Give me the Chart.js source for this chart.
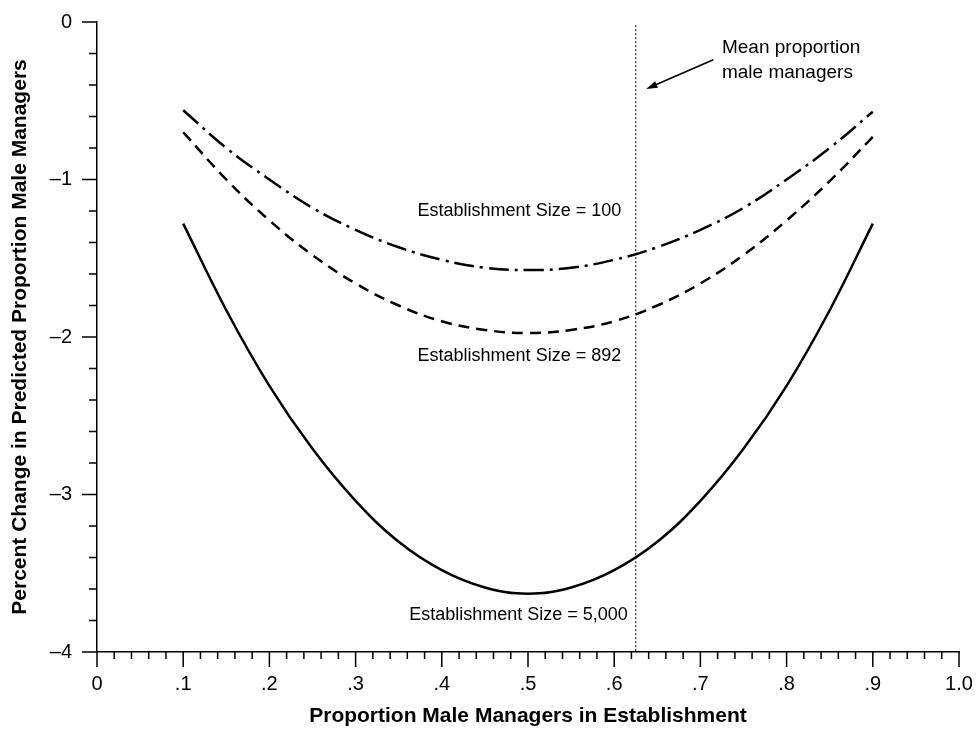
<!DOCTYPE html>
<html>
<head>
<meta charset="utf-8">
<script src="https://cdn.jsdelivr.net/npm/chart.js@4.4.1/dist/chart.umd.min.js"></script>
<style>
  html, body { margin: 0; padding: 0; background: #fff; }
  #wrap { width: 977px; height: 731px; }
</style>
</head>
<body>
<div id="wrap"><canvas id="chart" width="977" height="731"></canvas></div>
<script>
// proportion male managers (x) and predicted % change (y) for three establishment sizes
const propMale = [0.1, 0.15, 0.2, 0.25, 0.3, 0.35, 0.4, 0.45, 0.5, 0.55, 0.6, 0.65, 0.7, 0.75, 0.8, 0.85, 0.9];
const size100  = [-0.56, -0.80, -1.00, -1.18, -1.32, -1.43, -1.51, -1.56, -1.575, -1.56, -1.51, -1.43, -1.32, -1.18, -1.00, -0.80, -0.57];
const size892  = [-0.70, -1.00, -1.26, -1.48, -1.66, -1.80, -1.90, -1.955, -1.975, -1.955, -1.90, -1.80, -1.66, -1.48, -1.26, -1.01, -0.73];
const size5000 = [-1.28, -1.83, -2.31, -2.71, -3.04, -3.30, -3.48, -3.59, -3.63, -3.59, -3.48, -3.30, -3.04, -2.71, -2.31, -1.83, -1.28];

const meanProp = 0.625;
const meanLine = [-0.02, -4];

const curveLabels = ["Establishment Size = 100", "Establishment Size = 892", "Establishment Size = 5,000"];
const curveLabelPos = [[0.49, -1.20], [0.49, -2.12], [0.489, -3.765]];

const noteLines = ["Mean proportion", "male managers"];
const notePos = [0.725, -0.165];
const arrowFrom = [0.715, -0.24];
const arrowTo = [0.637, -0.425];

const xTickLabel = v => v === 0 ? "0" : (v >= 1 ? "1.0" : "." + Math.round(v * 10));
const yTickLabel = v => v === 0 ? "0" : "\u2013" + Math.abs(v);

const pts = ys => propMale.map((x, i) => ({ x, y: ys[i] }));

const FONT = "'Liberation Sans', Arial, Helvetica, sans-serif";

// minor/major ticks, arrow and text notes
const extras = {
  id: "extras",
  afterDraw(chart) {
    const { ctx, scales: { x, y } } = chart;
    ctx.save();
    ctx.strokeStyle = "#000";
    ctx.lineWidth = 1.5;
    ctx.beginPath();
    for (let i = 0; i <= 50; i++) {
      const px = x.getPixelForValue(i / 50);
      const len = i % 5 === 0 ? 15 : 7;
      ctx.moveTo(px, y.bottom);
      ctx.lineTo(px, y.bottom + len);
    }
    for (let i = 0; i <= 20; i++) {
      const py = y.getPixelForValue(-i / 5);
      const len = i % 5 === 0 ? 15 : 8;
      ctx.moveTo(x.left, py);
      ctx.lineTo(x.left - len, py);
    }
    ctx.stroke();

    // arrow
    const ax = x.getPixelForValue(arrowFrom[0]), ay = y.getPixelForValue(arrowFrom[1]);
    const bx = x.getPixelForValue(arrowTo[0]), by = y.getPixelForValue(arrowTo[1]);
    const ang = Math.atan2(by - ay, bx - ax);
    ctx.lineWidth = 1.5;
    ctx.beginPath();
    ctx.moveTo(ax, ay);
    ctx.lineTo(bx - 8 * Math.cos(ang), by - 8 * Math.sin(ang));
    ctx.stroke();
    ctx.beginPath();
    ctx.moveTo(bx, by);
    ctx.lineTo(bx - 12 * Math.cos(ang - 0.3), by - 12 * Math.sin(ang - 0.3));
    ctx.lineTo(bx - 12 * Math.cos(ang + 0.3), by - 12 * Math.sin(ang + 0.3));
    ctx.closePath();
    ctx.fillStyle = "#000";
    ctx.fill();

    ctx.fillStyle = "#000";
    ctx.font = "19px " + FONT;
    ctx.textBaseline = "middle";
    ctx.textAlign = "left";
    const nx = x.getPixelForValue(notePos[0]), ny = y.getPixelForValue(notePos[1]);
    noteLines.forEach((t, i) => ctx.fillText(t, nx, ny + i * 25));

    ctx.font = "18px " + FONT;
    ctx.textAlign = "center";
    curveLabels.forEach((t, i) => {
      ctx.fillText(t, x.getPixelForValue(curveLabelPos[i][0]), y.getPixelForValue(curveLabelPos[i][1]));
    });
    ctx.restore();
  }
};

new Chart(document.getElementById("chart"), {
  type: "line",
  data: {
    datasets: [
      { label: "100", data: pts(size100), borderColor: "#000", borderWidth: 2.5, borderDash: [20, 6, 3, 6], pointRadius: 0, tension: 0.4, fill: false },
      { label: "892", data: pts(size892), borderColor: "#000", borderWidth: 2.5, borderDash: [11, 7], pointRadius: 0, tension: 0.4, fill: false },
      { label: "5000", data: pts(size5000), borderColor: "#000", borderWidth: 2.5, pointRadius: 0, tension: 0.4, fill: false },
      { label: "mean", data: meanLine.map(v => ({ x: meanProp, y: v })), borderColor: "#000", borderWidth: 1, borderDash: [2, 2], pointRadius: 0, fill: false }
    ]
  },
  options: {
    responsive: false,
    animation: false,
    layout: { padding: { left: 0, right: 18, top: 22, bottom: 0 } },
    plugins: { legend: { display: false }, tooltip: { enabled: false } },
    scales: {
      x: {
        type: "linear", min: 0, max: 1,
        afterFit: s => { s.height = 79; s.paddingLeft = 0; s.paddingRight = 0; },
        grid: { display: false },
        border: { display: true, color: "#000", width: 1.5 },
        ticks: { stepSize: 0.1, callback: xTickLabel, color: "#000", padding: 12, maxRotation: 0, font: { family: FONT, size: 20 } },
        title: { display: true, text: "Proportion Male Managers in Establishment", color: "#000", padding: { top: 0, bottom: 2 }, font: { family: FONT, size: 21, weight: "bold" } }
      },
      y: {
        type: "linear", min: -4, max: 0,
        afterFit: s => { s.width = 97; s.paddingTop = 0; s.paddingBottom = 0; },
        grid: { display: false },
        border: { display: true, color: "#000", width: 1.5 },
        ticks: { stepSize: 1, callback: yTickLabel, color: "#000", padding: 17, font: { family: FONT, size: 20 } },
        title: { display: true, text: "Percent Change in Predicted Proportion Male Managers", color: "#000", padding: { top: 8, bottom: 0 }, font: { family: FONT, size: 21, weight: "bold" } }
      }
    }
  },
  plugins: [extras]
});
</script>
</body>
</html>
